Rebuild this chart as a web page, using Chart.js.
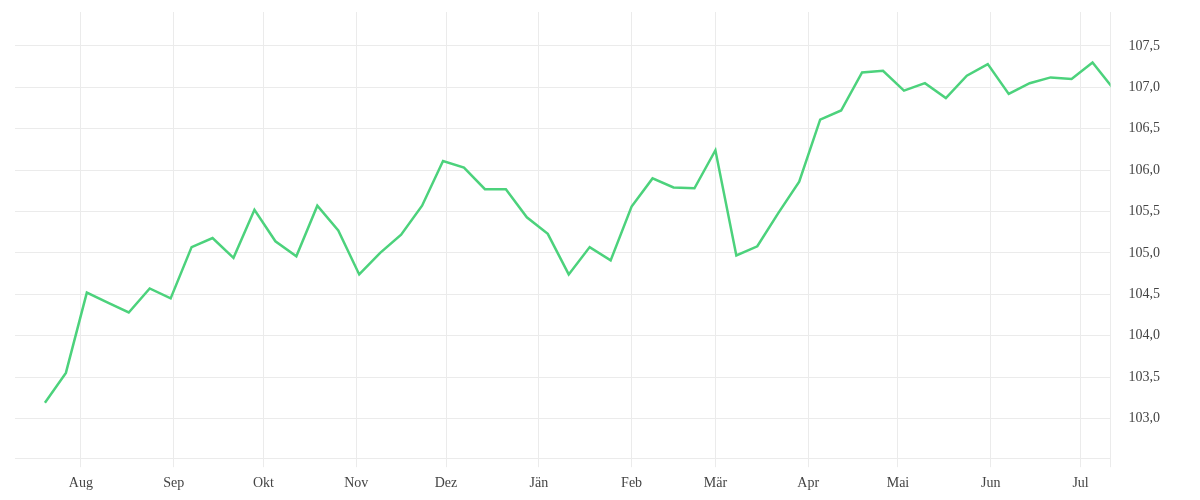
<!DOCTYPE html>
<html>
<head>
<meta charset="utf-8">
<script src="https://cdn.jsdelivr.net/npm/chart.js@4"></script>
<style>
  html, body { margin: 0; padding: 0; background: #fff; }
  #wrap { width: 1200px; height: 500px; }
</style>
</head>
<body>
<div id="wrap"><canvas id="myChart" width="1200" height="500"></canvas></div>
<script>
// month tick labels (Aug 2022 - Jul 2023)
const monthLabels = ['Aug', 'Sep', 'Okt', 'Nov', 'Dez', 'Jän', 'Feb', 'Mär', 'Apr', 'Mai', 'Jun', 'Jul'];
// first week of the series and weekly values
const firstWeek = '2022-07-20';
const werte = [
  103.19, 103.55, 104.52, 104.40, 104.28, 104.57, 104.45, 105.07, 105.18, 104.94,
  105.52, 105.14, 104.96, 105.57, 105.27, 104.74, 105.00, 105.22, 105.57, 106.11,
  106.03, 105.77, 105.77, 105.43, 105.23, 104.74, 105.07, 104.91, 105.56, 105.90,
  105.79, 105.78, 106.24, 104.97, 105.08, 105.48, 105.86, 106.61, 106.72, 107.18,
  107.20, 106.96, 107.05, 106.87, 107.14, 107.28, 106.92, 107.05, 107.12, 107.10,
  107.30, 106.98
];

const TAG = 86400000;
const basis = Date.UTC(2022, 7, 1); // 1. August

// positions in days since 1 Aug
const monatsTicks = monthLabels.map((m, i) => (Date.UTC(2022, 7 + i, 1) - basis) / TAG);
const start = (Date.parse(firstWeek) - basis) / TAG;
const punkte = werte.map((v, i) => ({ x: start + 7 * i, y: v }));

const xMin = -22;
const xMax = 344;
const gitter = '#ebebeb';

function creaGrafico() {
  const ctx = document.getElementById('myChart').getContext('2d');
  new Chart(ctx, {
    type: 'line',
    data: {
      datasets: [{
        data: punkte,
        borderColor: '#4cd27c',
        borderWidth: 2.5,
        pointRadius: 0,
        tension: 0,
        fill: false
      }]
    },
    options: {
      responsive: false,
      animation: false,
      layout: { padding: { left: 15, top: 12, right: 22, bottom: 0 } },
      plugins: {
        legend: { display: false },
        tooltip: { enabled: false }
      },
      scales: {
        x: {
          type: 'linear',
          min: xMin,
          max: xMax,
          afterBuildTicks: (axis) => {
            axis.ticks = monatsTicks.concat([xMax]).map(v => ({ value: v }));
          },
          ticks: {
            autoSkip: false,
            maxRotation: 0,
            padding: 8,
            color: '#444',
            font: { family: 'Liberation Serif', size: 14 },
            callback: (v) => {
              const i = monatsTicks.indexOf(v);
              return i >= 0 ? monthLabels[i] : '';
            }
          },
          grid: { color: gitter, lineWidth: 1, tickLength: 9, drawTicks: true },
          border: { display: true, color: gitter }
        },
        y: {
          position: 'right',
          min: 102.52,
          max: 107.91,
          afterFit: (s) => { s.paddingTop = 0; s.paddingBottom = 0; },
          ticks: {
            stepSize: 0.5,
            includeBounds: false,
            padding: 18,
            color: '#444',
            font: { family: 'Liberation Serif', size: 14 },
            callback: (v) => v.toFixed(1).replace('.', ',')
          },
          grid: { color: gitter, lineWidth: 1, drawTicks: false },
          border: { display: false }
        }
      }
    }
  });
}

creaGrafico();
</script>
</body>
</html>
